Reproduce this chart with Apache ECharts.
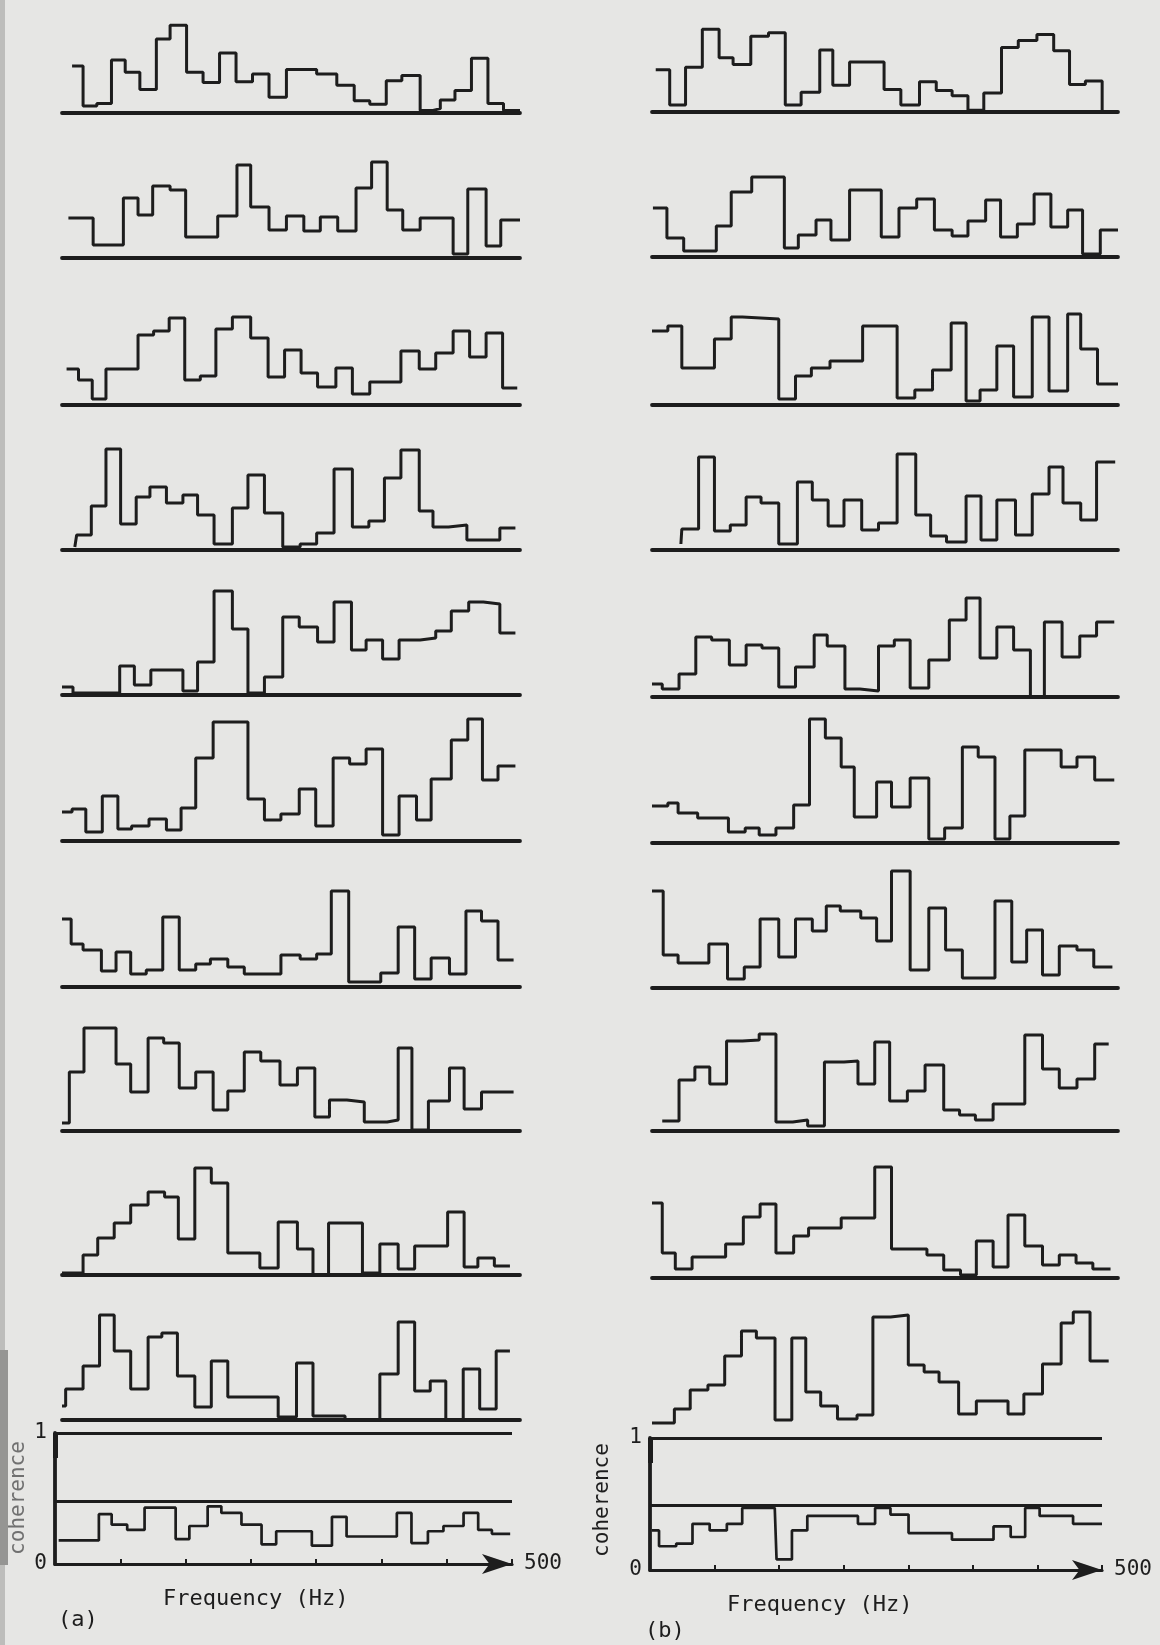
<!DOCTYPE html>
<html>
<head>
<meta charset="utf-8">
<script src="https://cdn.jsdelivr.net/npm/echarts@6/dist/echarts.min.js"></script>
<style>
  html, body { margin: 0; padding: 0; background: #e6e6e4; }
  #chart { width: 1160px; height: 1645px; }
</style>
</head>
<body>
<div id="chart"></div>
<script>
// step traces: [frequency (Hz), level] - level 0 is the trace's own baseline
const a1 = [[11,54],[23,8],[38,11],[54,61],[69,47],[85,27],[103,85],[118,101],[136,47],[154,35],[172,69],[190,36],[208,45],[226,18],[245,50],[278,45],[300,32],[319,14],[336,10],[354,37],[371,43],[391,3],[405,5],[413,15],[429,26],[447,63],[465,11],[482,3],[500,3]];
const a2 = [[7,40],[34,13],[67,60],[83,43],[99,72],[118,68],[135,21],[170,42],[191,93],[206,51],[226,28],[245,42],[264,27],[282,41],[301,27],[321,70],[338,96],[355,48],[372,28],[391,40],[427,4],[443,69],[463,12],[479,38],[500,38]];
const a3 = [[5,36],[18,25],[33,6],[48,36],[83,70],[100,74],[117,87],[134,25],[151,29],[168,76],[186,88],[206,67],[225,28],[243,55],[261,32],[279,18],[299,37],[317,11],[336,23],[370,54],[390,36],[408,52],[427,74],[445,48],[463,72],[481,17],[497,17]];
const a4 = [[14,3],[16,15],[32,44],[48,101],[64,26],[81,53],[96,63],[114,47],[132,55],[148,35],[166,6],[186,42],[203,75],[221,37],[241,3],[260,6],[278,17],[297,81],[317,23],[335,29],[352,72],[370,100],[390,39],[405,23],[422,25],[442,10],[478,22],[495,22]];
const a5 = [[0,8],[12,2],[63,29],[79,10],[97,25],[132,4],[148,33],[166,104],[186,66],[203,2],[221,18],[241,78],[259,68],[279,53],[297,93],[316,45],[332,55],[350,36],[368,55],[391,57],[408,64],[425,84],[444,93],[460,91],[478,62],[495,62]];
const a6 = [[0,29],[11,32],[26,9],[44,45],[61,12],[76,15],[95,22],[114,11],[130,33],[146,83],[165,119],[203,42],[221,21],[239,27],[259,52],[277,15],[296,83],[314,77],[332,92],[350,6],[368,45],[387,21],[403,62],[425,101],[443,122],[459,61],[476,75],[495,75]];
const a7 = [[0,68],[10,43],[23,37],[43,16],[59,35],[75,13],[92,17],[110,70],[128,17],[146,23],[162,28],[181,20],[199,13],[239,32],[260,28],[278,33],[294,96],[313,5],[348,14],[367,60],[385,8],[403,29],[423,13],[441,76],[458,66],[476,27],[493,27]];
const a8 = [[0,8],[8,59],[24,103],[59,67],[75,39],[94,93],[111,88],[128,43],[146,59],[165,21],[181,40],[199,79],[217,70],[238,46],[257,63],[276,14],[292,31],[311,29],[330,9],[355,11],[367,83],[382,1],[400,30],[423,63],[439,22],[458,39],[493,39]];
const a9 = [[0,2],[23,20],[39,37],[57,52],[75,70],[94,83],[112,78],[127,36],[145,107],[163,92],[181,22],[216,7],[236,53],[257,26],[274,0],[291,52],[328,2],[347,31],[367,6],[385,29],[421,63],[439,8],[454,17],[472,9],[489,9]];
const a10 = [[0,14],[4,31],[23,54],[41,105],[57,69],[75,31],[94,83],[109,87],[126,44],[145,13],[163,59],[181,23],[236,3],[256,57],[274,4],[309,0],[347,46],[367,98],[385,29],[402,39],[419,0],[438,51],[456,11],[474,69],[489,69]];

const b1 = [[4,49],[19,8],[36,52],[54,96],[72,63],[87,55],[106,88],[125,92],[143,8],[160,23],[180,72],[194,31],[212,58],[249,26],[267,8],[287,35],[305,25],[322,19],[339,2],[356,22],[375,75],[393,83],[413,90],[431,71],[448,32],[465,36],[483,0],[500,0]];
const b2 = [[1,49],[16,19],[34,6],[69,31],[85,65],[107,80],[142,9],[157,22],[176,37],[192,17],[212,67],[246,20],[265,49],[284,58],[303,27],[322,21],[339,36],[358,57],[374,20],[392,33],[410,63],[428,30],[446,47],[462,3],[481,27],[500,27]];
const b3 = [[0,74],[17,79],[32,37],[67,66],[85,88],[97,86],[136,6],[154,29],[171,37],[191,44],[226,79],[263,7],[282,15],[301,35],[321,82],[337,4],[352,15],[370,59],[388,8],[408,88],[426,14],[446,91],[460,56],[478,21],[500,21]];
const b4 = [[31,6],[32,21],[50,93],[67,19],[84,25],[101,53],[117,47],[136,6],[156,68],[172,50],[189,24],[206,50],[225,20],[243,27],[263,96],[283,35],[299,14],[316,8],[337,54],[353,10],[370,50],[390,15],[408,56],[426,83],[441,47],[460,30],[477,88],[497,88]];
const b5 = [[0,13],[11,8],[29,23],[47,60],[64,57],[83,32],[101,52],[118,49],[136,10],[154,30],[174,62],[188,51],[207,8],[223,6],[243,51],[260,57],[277,9],[297,37],[319,77],[337,99],[352,39],[370,70],[388,47],[406,0],[421,75],[440,40],[459,61],[477,75],[496,75]];
const b6 = [[0,37],[17,40],[28,30],[49,25],[82,11],[100,15],[115,8],[133,15],[152,38],[169,124],[186,105],[203,76],[217,26],[241,61],[257,36],[277,65],[297,4],[314,15],[333,96],[350,86],[368,4],[384,27],[400,93],[439,76],[456,86],[475,63],[496,63]];
const b7 = [[0,97],[12,33],[28,25],[61,44],[81,9],[99,21],[116,69],[136,31],[154,69],[172,57],[187,82],[202,77],[224,70],[241,47],[257,117],[277,18],[297,80],[315,38],[333,10],[368,87],[386,26],[402,58],[419,13],[437,42],[456,38],[474,21],[494,21]];
const b8 = [[11,10],[29,51],[46,64],[62,47],[80,90],[97,91],[115,97],[133,9],[151,11],[167,5],[185,69],[206,70],[221,47],[239,89],[255,30],[274,40],[293,66],[313,21],[330,16],[347,11],[366,27],[400,96],[419,62],[437,43],[456,52],[475,87],[490,87]];
const b9 = [[0,75],[11,25],[25,9],[43,21],[79,34],[98,61],[116,74],[133,25],[152,42],[168,50],[203,60],[239,111],[257,29],[295,23],[313,8],[331,3],[348,37],[366,11],[382,63],[400,32],[419,13],[437,23],[455,15],[473,9],[492,9]];
const b10 = [[0,5],[24,19],[41,38],[60,43],[78,72],[96,97],[112,90],[132,8],[150,90],[165,36],[181,22],[199,9],[220,13],[237,111],[256,113],[275,63],[292,56],[308,46],[329,14],[348,27],[382,14],[399,34],[419,64],[439,105],[452,116],[470,67],[490,67]];

// coherence spectra (0..1) and their significance lines
const cohA = [[4,0.18],[48,0.38],[62,0.30],[79,0.26],[98,0.43],[132,0.19],[147,0.29],[167,0.44],[182,0.39],[204,0.30],[226,0.15],[242,0.25],[281,0.14],[303,0.36],[319,0.21],[374,0.39],[390,0.16],[408,0.25],[425,0.29],[447,0.39],[463,0.26],[478,0.23],[498,0.23]];
const cohB = [[2,0.30],[10,0.18],[29,0.20],[47,0.35],[66,0.30],[85,0.35],[102,0.47],[138,0.47],[140,0.08],[157,0.30],[174,0.41],[230,0.35],[249,0.47],[266,0.42],[286,0.28],[334,0.23],[380,0.33],[399,0.25],[415,0.47],[431,0.41],[468,0.35],[500,0.35]];
const cohThresholdA = 0.48;
const cohThresholdB = 0.49;
const freqMax = 500;

const chart = echarts.init(document.getElementById('chart'));

const INK = '#1d1d1d';
const FONT = '"DejaVu Sans Mono", monospace';
const TRACE_H = 130;
const colA = [a1, a2, a3, a4, a5, a6, a7, a8, a9, a10];
const colB = [b1, b2, b3, b4, b5, b6, b7, b8, b9, b10];
const baseA = [113, 258, 405, 550, 695, 841, 987, 1131, 1275, 1420];
const baseB = [112, 257, 405, 550, 697, 843, 988, 1131, 1278, 1428];

const grid = [], xAxis = [], yAxis = [], series = [];

function addTrace(data, left, width, base, showBase) {
  const i = grid.length;
  grid.push({ left: left, width: width, top: base - TRACE_H, height: TRACE_H });
  xAxis.push({
    gridIndex: i, type: 'value', min: 0, max: freqMax,
    axisLine: { show: showBase, onZero: false, lineStyle: { color: INK, width: 3.8 } },
    axisTick: { show: false }, axisLabel: { show: false }, splitLine: { show: false }
  });
  yAxis.push({ gridIndex: i, type: 'value', min: 0, max: TRACE_H, show: false });
  series.push({
    type: 'line', xAxisIndex: i, yAxisIndex: i, data: data, step: 'end',
    symbol: 'none', silent: true, lineStyle: { color: INK, width: 3 }
  });
}

function addCoherence(data, thr, left, width, top, height) {
  const i = grid.length;
  grid.push({ left: left, width: width, top: top, height: height });
  xAxis.push({
    gridIndex: i, type: 'value', min: 0, max: freqMax, interval: freqMax / 7,
    name: String(freqMax), nameLocation: 'end', nameGap: 12,
    nameTextStyle: { color: INK, fontFamily: FONT, fontSize: 21 },
    axisLine: {
      show: true, onZero: false, symbol: ['none', 'arrow'], symbolSize: [15, 30],
      lineStyle: { color: INK, width: 3.2 }
    },
    axisTick: { show: true, inside: true, length: 5, lineStyle: { color: INK, width: 2 } },
    axisLabel: { show: false }, splitLine: { show: false }
  });
  yAxis.push({
    gridIndex: i, type: 'value', min: 0, max: 1, interval: 1,
    axisLine: { show: true, lineStyle: { color: INK, width: 3.8 } },
    axisTick: { show: false },
    axisLabel: { color: INK, fontFamily: FONT, fontSize: 21, margin: 8 },
    splitLine: { show: false }
  });
  series.push({
    type: 'line', xAxisIndex: i, yAxisIndex: i, data: data, step: 'end',
    symbol: 'none', silent: true, lineStyle: { color: INK, width: 2.7 },
    markLine: {
      silent: true, symbol: 'none', label: { show: false },
      lineStyle: { color: INK, width: 3, type: 'solid' },
      data: [{ yAxis: 1 }, { yAxis: thr }]
    }
  });
}

colA.forEach((d, k) => addTrace(d, 62, 458, baseA[k], true));
colB.forEach((d, k) => addTrace(d, 652, 466, baseB[k], k < 9));
addCoherence(cohA, cohThresholdA, 55, 457, 1433, 131);
addCoherence(cohB, cohThresholdB, 650, 452, 1438, 132);

const textStyle = (t, x, y) => ({
  type: 'text', x: x, y: y,
  style: { text: t, fill: INK, font: '22px "DejaVu Sans Mono", monospace', textVerticalAlign: 'middle' }
});

const option = {
  backgroundColor: '#e6e6e4',
  animation: false,
  grid: grid,
  xAxis: xAxis,
  yAxis: yAxis,
  series: series,
  graphic: [
    { type: 'rect', shape: { x: 0, y: 0, width: 5, height: 1645 }, style: { fill: '#bdbdbb' } },
    { type: 'rect', shape: { x: 0, y: 1350, width: 8, height: 215 }, style: { fill: '#959593' } },
    // heavy marks at the top of each coherence axis
    { type: 'rect', shape: { x: 53, y: 1433, width: 5, height: 25 }, style: { fill: INK } },
    { type: 'rect', shape: { x: 648, y: 1438, width: 5, height: 25 }, style: { fill: INK } },
    textStyle('Frequency (Hz)', 163, 1599),
    textStyle('(a)', 58, 1620),
    textStyle('Frequency (Hz)', 727, 1605),
    textStyle('(b)', 645, 1631),
    {
      type: 'text', x: 603, y: 1500, rotation: Math.PI / 2,
      style: { text: 'coherence', fill: INK, font: '21px "DejaVu Sans Mono", monospace', textAlign: 'center', textVerticalAlign: 'middle' }
    },
    {
      type: 'text', x: 19, y: 1498, rotation: Math.PI / 2,
      style: { text: 'coherence', fill: '#707070', font: '21px "DejaVu Sans Mono", monospace', textAlign: 'center', textVerticalAlign: 'middle' }
    }
  ]
};

chart.setOption(option);
</script>
</body>
</html>
